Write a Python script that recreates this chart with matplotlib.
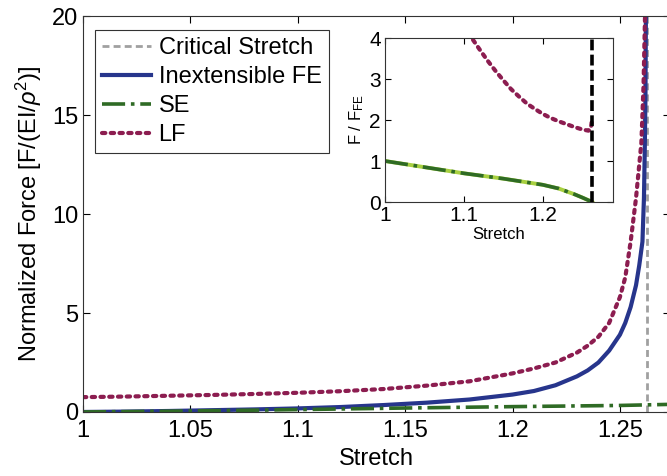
import matplotlib
matplotlib.use('Agg')
import matplotlib.pyplot as plt

plt.rcParams['font.family'] = ['Liberation Sans', 'DejaVu Sans']
plt.rcParams['mathtext.fontset'] = 'custom'
plt.rcParams['mathtext.rm'] = 'Liberation Sans'
plt.rcParams['mathtext.it'] = 'Liberation Sans:italic'

# critical stretch where the inextensible force blows up
crit_stretch = 1.2626

# main plot: normalized force vs stretch
fe_stretch = [1.00, 1.02, 1.04, 1.06, 1.08, 1.10, 1.12, 1.14, 1.16, 1.18, 1.20,
              1.21, 1.22, 1.23, 1.235, 1.24, 1.245, 1.25, 1.2525, 1.255,
              1.2575, 1.259, 1.2605, 1.2612, 1.2616, 1.2619, 1.2621, 1.2624]
fe_force = [0.0, 0.02, 0.05, 0.09, 0.13, 0.18, 0.25, 0.35, 0.47, 0.63, 0.88,
            1.06, 1.35, 1.8, 2.1, 2.5, 3.1, 3.9, 4.5, 5.3,
            6.4, 7.4, 8.6, 10.8, 13.4, 16.0, 20.0, 30.0]

se_stretch = [1.00, 1.05, 1.10, 1.15, 1.20, 1.25, 1.28]
se_force = [0.0, 0.05, 0.12, 0.20, 0.27, 0.33, 0.40]

lf_stretch = [1.00, 1.02, 1.04, 1.06, 1.08, 1.10, 1.12, 1.14, 1.16, 1.18, 1.20,
              1.21, 1.22, 1.23, 1.235, 1.24, 1.245, 1.25, 1.2525, 1.255,
              1.2575, 1.26, 1.261, 1.2617, 1.2622]
lf_force = [0.75, 0.78, 0.82, 0.86, 0.91, 0.97, 1.05, 1.16, 1.33, 1.55, 1.95,
            2.2, 2.5, 3.0, 3.35, 3.8, 4.5, 5.8, 6.8, 8.6,
            10.8, 13.6, 16.5, 20.0, 30.0]

# inset: force ratio to the inextensible FE result
se_ratio_stretch = [1.00, 1.05, 1.10, 1.15, 1.20, 1.22, 1.24, 1.25, 1.26, 1.2626]
se_ratio = [1.0, 0.85, 0.70, 0.57, 0.42, 0.33, 0.19, 0.11, 0.025, 0.0]

lf_ratio_stretch = [1.09, 1.10, 1.11, 1.12, 1.13, 1.14, 1.15, 1.16, 1.17, 1.18,
                    1.19, 1.20, 1.21, 1.22, 1.23, 1.24, 1.25, 1.258, 1.261, 1.262]
lf_ratio = [4.7, 4.3, 4.0, 3.72, 3.45, 3.2, 2.97, 2.75, 2.57, 2.4,
            2.27, 2.15, 2.05, 1.97, 1.9, 1.83, 1.77, 1.74, 1.8, 1.95]

blue = '#27358c'
purple = '#8c1d50'
green = '#2f6b25'
grey = '#a0a0a0'
dots = (0, (0.8, 1.3))

fig = plt.figure(figsize=(6.67, 4.76), dpi=100)
ax = fig.add_axes([0.1244, 0.1345, 0.8800, 0.8316])

ax.axvline(crit_stretch, color=grey, lw=2, ls=(0, (2.5, 1.5)),
           label='Critical Stretch')
ax.plot(fe_stretch, fe_force, color=blue, lw=3, label='Inextensible FE')
ax.plot(se_stretch, se_force, color=green, lw=2.6, ls='-.', label='SE')
ax.plot(lf_stretch, lf_force, color=purple, lw=3, ls=dots,
        dash_capstyle='round', label='LF')

ax.set_xlim(1, 1.2733)
ax.set_ylim(0, 20)
ax.set_xticks([1, 1.05, 1.1, 1.15, 1.2, 1.25])
ax.set_xticklabels(['1', '1.05', '1.1', '1.15', '1.2', '1.25'])
ax.set_yticks([0, 5, 10, 15, 20])
ax.tick_params(direction='in', top=True, right=True, labelsize=17, length=5,
               width=0.8)
ax.tick_params(axis='x', pad=6)
for s in ax.spines.values():
    s.set_linewidth(0.8)
    s.set_color('#333333')
ax.set_xlabel('Stretch', fontsize=17, labelpad=4)
ax.set_ylabel('Normalized Force [F/(EI/$\\rho^2$)]', fontsize=17, labelpad=6)

leg = ax.legend(loc='upper left', bbox_to_anchor=(0.0, 0.995), fontsize=17,
                handlelength=2.1, handletextpad=0.3, labelspacing=0.3,
                borderpad=0.3, borderaxespad=0.5, fancybox=False, framealpha=1)
leg.get_frame().set_edgecolor('#333333')
leg.get_frame().set_linewidth(0.8)

# inset with force ratios
ins = fig.add_axes([0.5772, 0.5756, 0.3418, 0.3445])
ins.plot(se_ratio_stretch, se_ratio, color='#a8d040', lw=2.8)
ins.plot(se_ratio_stretch, se_ratio, color=green, lw=2.6, ls='-.')
ins.plot(lf_ratio_stretch, lf_ratio, color=purple, lw=3, ls=dots,
         dash_capstyle='round')
ins.axvline(crit_stretch, color='black', lw=2.6, ls=(0, (3, 1.2)))
ins.set_xlim(1, 1.289)
ins.set_ylim(0, 4)
ins.set_xticks([1, 1.1, 1.2])
ins.set_xticklabels(['1', '1.1', '1.2'])
ins.set_yticks([0, 1, 2, 3, 4])
ins.tick_params(direction='in', top=True, right=True, labelsize=15, length=4,
                width=0.8, pad=3)
for s in ins.spines.values():
    s.set_linewidth(0.8)
    s.set_color('#333333')
ins.set_xlabel('Stretch', fontsize=12, labelpad=1)
ins.set_ylabel('F / F$_{\\mathrm{FE}}$', fontsize=12, labelpad=2)

fig.savefig('out.png', dpi=100)
